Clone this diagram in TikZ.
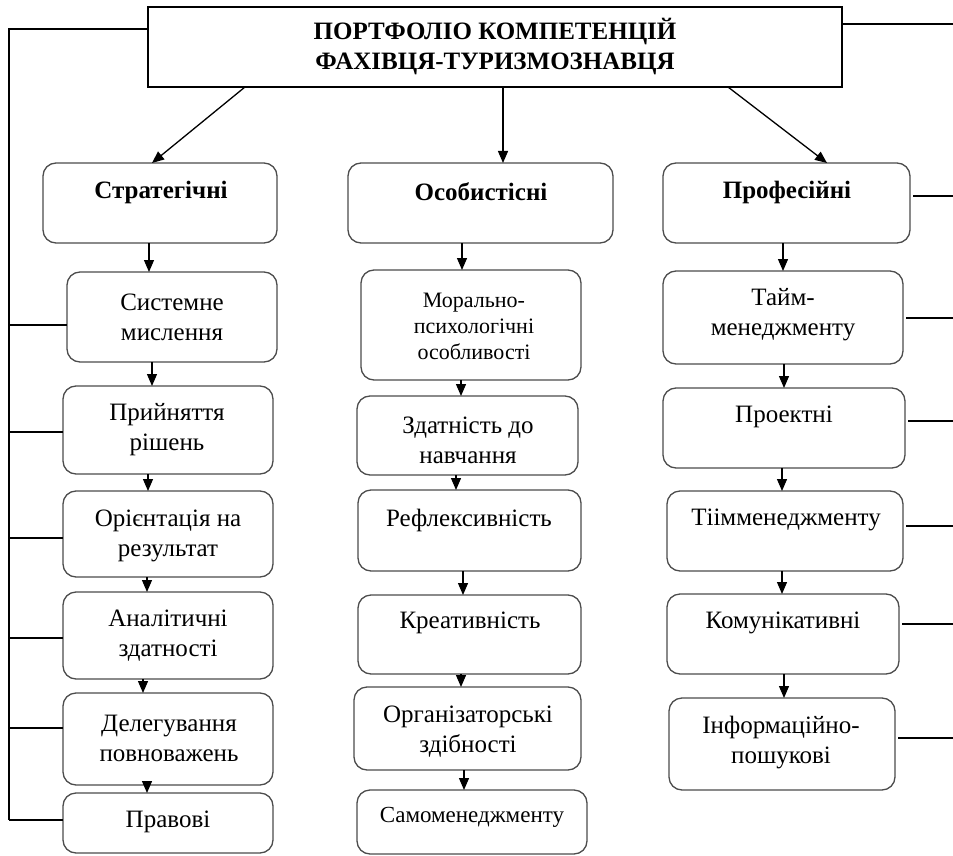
\documentclass[tikz,border=0pt]{standalone}
\usepackage{fontspec}
\setmainfont{Liberation Serif}
\usetikzlibrary{arrows.meta}
\newcommand\mkbox[6]{\node[#1, minimum width={#5-#3}, minimum height={#6-#4}] (#2) at ({(#3+#5)/2},{(#4+#6)/2}) {};}
\newcommand\vconn[3]{\coordinate (k#1#2) at (#3,0); \draw[arr] (#1.south -| k#1#2) -- (#2.north -| k#1#2);}
\newcommand\lbranch[2]{\coordinate (L#1) at (9,#2); \draw[conn] (L#1) -- (#1.west |- L#1);}
\newcommand\rbranch[2]{\coordinate (R#1) at (953,#2); \draw[conn] ([xshift=3pt]#1.east |- R#1) -- (R#1);}
\begin{document}
\begin{tikzpicture}[x=1pt,y=-1pt,
  box/.style={draw=black!70, line width=1.3pt, rounded corners=13pt, inner sep=0pt, outer sep=0pt},
  topbox/.style={draw=black, line width=1.5pt, inner sep=0pt, outer sep=0pt},
  txt/.style={align=center, inner sep=0pt, font=\fontsize{25}{30}\selectfont},
  head/.style={align=center, inner sep=0pt, font=\fontsize{25}{30}\selectfont\bfseries},
  small/.style={align=center, inner sep=0pt, font=\fontsize{22}{26}\selectfont},
  conn/.style={line width=1.3pt, black},
  arr/.style={conn, -{Triangle[length=12pt,width=10pt]}}]
\useasboundingbox (0,0) rectangle (953,856);

% top box
\mkbox{topbox}{T}{148}{7}{842}{87}
\node[head] (Tt) at (495,47) {ПОРТФОЛІО КОМПЕТЕНЦІЙ\\ФАХІВЦЯ-ТУРИЗМОЗНАВЦЯ};

% column 1
\mkbox{box}{s0}{43}{163}{277}{243}
\mkbox{box}{s1}{67}{272}{277}{362}
\mkbox{box}{s2}{63}{386}{273}{474}
\mkbox{box}{s3}{63}{491}{273}{577}
\mkbox{box}{s4}{63}{592}{273}{679}
\mkbox{box}{s5}{63}{693}{273}{785}
\mkbox{box}{s6}{63}{793}{273}{853}
\node[head] (s0t) at (161,192) {Стратегічні};
\node[txt] (s1t) at (172,317) {Системне\\мислення};
\node[txt] (s2t) at (167,430) {Прийняття\\рішень};
\node[txt] (s3t) at (168,536) {Орієнтація на\\результат};
\node[txt] (s4t) at (168,636) {Аналітичні\\здатності};
\node[txt] (s5t) at (169,738) {Делегування\\повноважень};
\node[txt] (s6t) at (168,822) {Правові};

% column 2
\mkbox{box}{p0}{348}{163}{613}{243}
\mkbox{box}{p1}{361}{270}{581}{380}
\mkbox{box}{p2}{357}{396}{578}{475}
\mkbox{box}{p3}{358}{490}{581}{571}
\mkbox{box}{p4}{358}{595}{581}{674}
\mkbox{box}{p5}{354}{687}{581}{770}
\mkbox{box}{p6}{357}{790}{587}{854}
\node[head] (p0t) at (481,192) {Особистісні};
\node[small] (p1t) at (474,326) {Морально-\\психологічні\\особливості};
\node[txt] (p2t) at (468,440) {Здатність до\\навчання};
\node[txt] (p3t) at (469,520) {Рефлексивність};
\node[txt] (p4t) at (470,623) {Креативність};
\node[txt] (p5t) at (468,732) {Організаторські\\здібності};
\node[txt, font=\fontsize{23}{28}\selectfont] (p6t) at (472,817) {Самоменеджменту};

% column 3
\mkbox{box}{r0}{663}{163}{910}{243}
\mkbox{box}{r1}{663}{271}{903}{364}
\mkbox{box}{r2}{663}{388}{905}{468}
\mkbox{box}{r3}{667}{491}{903}{571}
\mkbox{box}{r4}{667}{594}{899}{674}
\mkbox{box}{r5}{669}{698}{895}{790}
\node[head] (r0t) at (787,192) {Професійні};
\node[txt] (r1t) at (783,315) {Тайм-\\менеджменту};
\node[txt] (r2t) at (784,417) {Проектні};
\node[txt] (r3t) at (786,520) {Тіімменеджменту};
\node[txt] (r4t) at (783,623) {Комунікативні};
\node[txt] (r5t) at (781,743) {Інформаційно-\\пошукові};

% arrows from top box
\coordinate (a1) at (245,0); \coordinate (b1) at (152,0);
\coordinate (a2) at (503,0);
\coordinate (a3) at (728,0); \coordinate (b3) at (827,0);
\draw[arr] (T.south -| a1) -- (s0.north -| b1);
\draw[arr] (T.south -| a2) -- (p0.north -| a2);
\draw[arr] (T.south -| a3) -- (r0.north -| b3);

% vertical arrows
\vconn{s0}{s1}{149}
\vconn{s1}{s2}{152}
\vconn{s2}{s3}{148}
\vconn{s3}{s4}{147}
\vconn{s4}{s5}{143}
\vconn{s5}{s6}{147}
\vconn{p0}{p1}{462}
\vconn{p1}{p2}{461}
\vconn{p2}{p3}{456}
\vconn{p3}{p4}{463}
\vconn{p4}{p5}{461}
\vconn{p5}{p6}{464}
\vconn{r0}{r1}{783}
\vconn{r1}{r2}{784}
\vconn{r2}{r3}{782}
\vconn{r3}{r4}{782}
\vconn{r4}{r5}{784}

% left bus
\coordinate (Ltop) at (9,29);
\lbranch{s1}{325}
\lbranch{s2}{432}
\lbranch{s3}{538}
\lbranch{s4}{638}
\lbranch{s5}{728}
\lbranch{s6}{820}
\draw[conn] (T.west |- Ltop) -- (Ltop) -- (Ls6);

% right lines
\coordinate (Rtop) at (953,24);
\draw[conn] (T.east |- Rtop) -- (Rtop);
\rbranch{r0}{196}
\rbranch{r1}{318}
\rbranch{r2}{421}
\rbranch{r3}{526}
\rbranch{r4}{624}
\rbranch{r5}{738}
\end{tikzpicture}
\end{document}
